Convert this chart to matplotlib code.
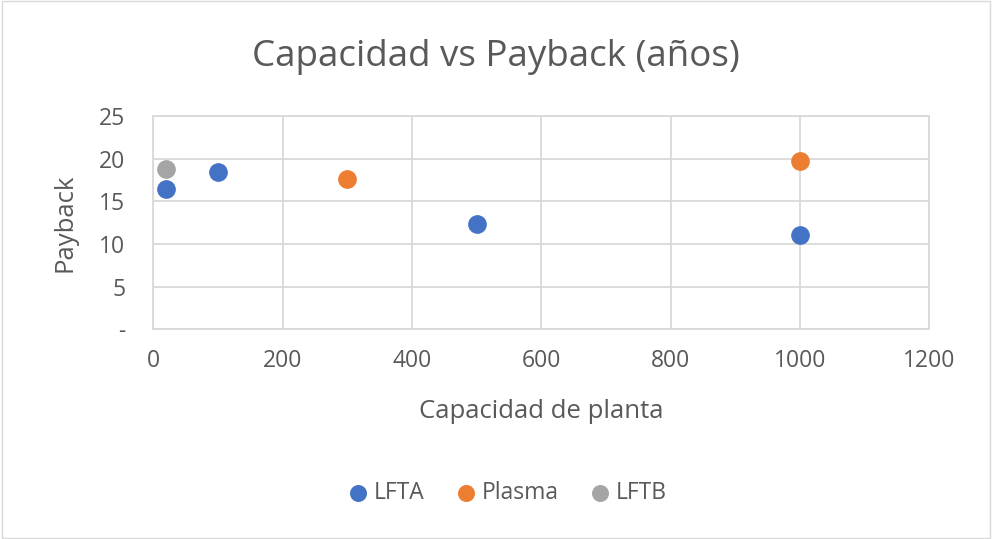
import matplotlib.pyplot as plt
from matplotlib.patches import Rectangle
from matplotlib.ticker import FuncFormatter

plt.rcParams['font.family'] = ['Open Sans', 'DejaVu Sans']

# Capacity (x) and payback years (y) per technology
lfta_cap = [20, 100, 500, 1000]
lfta_payback = [16.5, 18.4, 12.3, 11.1]
plasma_cap = [300, 1000]
plasma_payback = [17.6, 19.7]
lftb_cap = [20]
lftb_payback = [18.8]

text_color = "#595959"
grid_color = "#d9d9d9"

fig = plt.figure(figsize=(9.92, 5.39), dpi=100)
fig.patches.append(Rectangle((0.002, 0.002), 0.996, 0.996, transform=fig.transFigure,
                             fill=False, edgecolor="#d9d9d9", linewidth=1))
ax = fig.add_axes([0.1545, 0.389, 0.7823, 0.3958])

ax.scatter(lfta_cap, lfta_payback, s=155, color="#4472c4", label="LFTA", zorder=3)
ax.scatter(plasma_cap, plasma_payback, s=155, color="#ed7d31", label="Plasma", zorder=3)
ax.scatter(lftb_cap, lftb_payback, s=155, color="#a5a5a5", label="LFTB", zorder=3)

ax.set_xlim(0, 1200)
ax.set_ylim(0, 25)
ax.set_xticks(range(0, 1201, 200))
ax.set_yticks(range(0, 26, 5))
ax.yaxis.set_major_formatter(FuncFormatter(lambda v, p: "-" if v == 0 else f"{v:.0f}"))
ax.grid(True, color=grid_color, linewidth=1.3)
ax.set_axisbelow(True)
for side in ax.spines.values():
    side.set_color(grid_color)
    side.set_linewidth(1.3)
ax.tick_params(length=0, colors=text_color, labelsize=16.5)
ax.tick_params(axis="x", pad=14)
ax.tick_params(axis="y", pad=20)

ax.set_xlabel("Capacidad de planta", fontsize=18.5, color=text_color, labelpad=19)
ax.set_ylabel("Payback", fontsize=18.5, color=text_color, labelpad=16)
fig.text(0.5, 0.894, "Capacidad vs Payback (años)", ha="center", va="center",
         fontsize=26.5, color=text_color)

fig.legend(loc="center", bbox_to_anchor=(0.505, 0.085), ncol=3, frameon=False,
           fontsize=16.5, labelcolor=text_color, handletextpad=-0.3,
           columnspacing=0.8, markerscale=0.9)

fig.savefig("out.png", dpi=100)
